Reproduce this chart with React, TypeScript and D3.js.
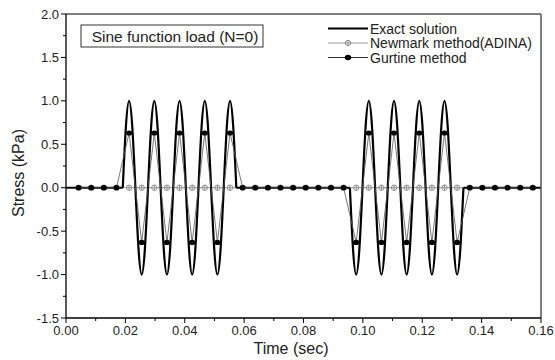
import React from "react";
import * as d3 from "d3";

// ---- data ----
const DT = 0.00425; // sampling step (s)
const sampleIndex = d3.range(1, 38);
// values at k = 0 .. 37
const gurtineValues = [
  0, 0, 0, 0, 0,
  0.63, -0.63, 0.63, -0.63, 0.63, -0.63, 0.63, -0.63, 0.63,
  0, 0, 0, 0, 0, 0, 0, 0, 0,
  -0.63, 0.63, -0.63, 0.63, -0.63, 0.63, -0.63, 0.63, -0.63,
  0, 0, 0, 0, 0, 0,
];
const newmarkValues = [
  0, 0, 0, 0, 0,
  0, 0, 0, 0, 0, 0, 0, 0, 0,
  0, 0, 0, 0, 0, 0, 0, 0, 0,
  0, 0, 0, 0, 0, 0, 0, 0, 0,
  0, 0, 0, 0, 0, 0,
];
// exact solution, sampled every DT/4, over the two loading windows
const exactStart1 = 4.5; // in DT units
const exactValues1 = [
  0, 0.71, 1, 0.71, 0, -0.71, -1, -0.71,
  0, 0.71, 1, 0.71, 0, -0.71, -1, -0.71,
  0, 0.71, 1, 0.71, 0, -0.71, -1, -0.71,
  0, 0.71, 1, 0.71, 0, -0.71, -1, -0.71,
  0, 0.71, 1, 0.71, 0,
];
const exactStart2 = 22.5;
const exactValues2 = [
  0, -0.71, -1, -0.71, 0, 0.71, 1, 0.71,
  0, -0.71, -1, -0.71, 0, 0.71, 1, 0.71,
  0, -0.71, -1, -0.71, 0, 0.71, 1, 0.71,
  0, -0.71, -1, -0.71, 0, 0.71, 1, 0.71,
  0, -0.71, -1, -0.71, 0,
];
const xTicks = [0, 0.02, 0.04, 0.06, 0.08, 0.1, 0.12, 0.14, 0.16];
const yTicks = [-1.5, -1.0, -0.5, 0.0, 0.5, 1.0, 1.5, 2.0];
const legendLabels = ["Exact solution", "Newmark method(ADINA)", "Gurtine method"];
const titleText = "Sine function load (N=0)";

export default function App() {
  const W = 555, H = 360;
  const L = 66, R = 541, T = 14, B = 318;
  const x = d3.scaleLinear().domain([0, 0.16]).range([L, R]);
  const y = d3.scaleLinear().domain([-1.5, 2.0]).range([B, T]);
  const font = "Arial, 'Liberation Sans', sans-serif";

  const line = d3.line<[number, number]>().x((d) => x(d[0])).y((d) => y(d[1]));
  const natural = d3
    .line<[number, number]>()
    .x((d) => x(d[0]))
    .y((d) => y(d[1]))
    .curve(d3.curveNatural);

  const ex1: [number, number][] = exactValues1.map((v, i) => [(exactStart1 + i / 4) * DT, v]);
  const ex2: [number, number][] = exactValues2.map((v, i) => [(exactStart2 + i / 4) * DT, v]);
  const flatExact: [number, number][][] = [
    [[0, 0], [ex1[0][0], 0]],
    [[ex1[ex1.length - 1][0], 0], [ex2[0][0], 0]],
    [[ex2[ex2.length - 1][0], 0], [0.16, 0]],
  ];

  const gPts: [number, number][] = sampleIndex.map((k) => [k * DT, gurtineValues[k]]);
  const nPts: [number, number][] = sampleIndex.map((k) => [k * DT, newmarkValues[k]]);

  const xMinor = d3.range(0, 17).map((i) => i * 0.01);
  const yMinor = d3.range(0, 15).map((i) => -1.5 + i * 0.25);

  const legY = [28.5, 43, 57.5];
  const legX0 = 328, legX1 = 368;
  const lm = (legX0 + legX1) / 2;

  const plus = (cx: number, cy: number, key: string) => (
    <g key={key}>
      <circle cx={cx} cy={cy} r={2.7} fill="#fff" stroke="#777" strokeWidth={0.8} />
      <line x1={cx - 2.7} x2={cx + 2.7} y1={cy} y2={cy} stroke="#777" strokeWidth={0.8} />
      <line x1={cx} x2={cx} y1={cy - 2.7} y2={cy + 2.7} stroke="#777" strokeWidth={0.8} />
    </g>
  );

  return (
    <svg width={W} height={H} style={{ position: "absolute", left: 0, top: 0, background: "#fff" }}>
      <rect x={0} y={0} width={W} height={H} fill="#fff" />
      {/* series */}
      <path d={line(nPts) || ""} fill="none" stroke="#8a8a8a" strokeWidth={0.9} />
      {flatExact.map((s, i) => (
        <path key={"f" + i} d={line(s) || ""} fill="none" stroke="#000" strokeWidth={2} />
      ))}
      <path d={natural(ex1) || ""} fill="none" stroke="#000" strokeWidth={2.2} />
      <path d={natural(ex2) || ""} fill="none" stroke="#000" strokeWidth={2.2} />
      <path d={line(gPts) || ""} fill="none" stroke="#555" strokeWidth={0.8} />
      {nPts.map((d, i) => plus(x(d[0]), y(d[1]), "n" + i))}
      {gPts.map((d, i) => (
        <ellipse key={"g" + i} cx={x(d[0])} cy={y(d[1])} rx={3.1} ry={2.6} fill="#000" />
      ))}

      {/* frame */}
      <line x1={L} x2={R} y1={T} y2={T} stroke="#555" strokeWidth={1.5} />
      <line x1={R} x2={R} y1={T} y2={B} stroke="#555" strokeWidth={1.5} />
      <line x1={L} x2={L} y1={T} y2={B} stroke="#000" strokeWidth={1.3} />
      <line x1={L} x2={R} y1={B} y2={B} stroke="#000" strokeWidth={1.3} />

      {/* x ticks */}
      {xMinor.map((v, i) => (
        <line key={"xm" + i} x1={x(v)} x2={x(v)} y1={B} y2={B + (i % 2 === 0 ? 5 : 3)} stroke="#000" strokeWidth={1} />
      ))}
      {xTicks.map((v) => (
        <text key={"xt" + v} x={x(v)} y={B + 17} fontSize={13} fontFamily={font} fill="#222" textAnchor="middle">
          {v.toFixed(2)}
        </text>
      ))}
      {/* y ticks */}
      {yMinor.map((v, i) => (
        <line key={"ym" + i} x1={L} x2={L - (i % 2 === 0 ? 5 : 3)} y1={y(v)} y2={y(v)} stroke="#000" strokeWidth={1} />
      ))}
      {yTicks.map((v) => (
        <text key={"yt" + v} x={L - 7} y={y(v) + 4.5} fontSize={13} fontFamily={font} fill="#222" textAnchor="end">
          {v.toFixed(1)}
        </text>
      ))}

      <text x={291} y={354} fontSize={16} fontFamily={font} fill="#222" textAnchor="middle">
        Time (sec)
      </text>
      <text
        transform={`translate(24,173) rotate(-90)`}
        fontSize={16}
        fontFamily={font}
        fill="#222"
        textAnchor="middle"
      >
        Stress (kPa)
      </text>

      {/* title box */}
      <rect x={81} y={25} width={182} height={22} fill="#fff" stroke="#333" strokeWidth={1} />
      <text x={175} y={41.5} fontSize={15.5} fontFamily={font} fill="#222" textAnchor="middle">
        {titleText}
      </text>

      {/* legend */}
      <line x1={legX0} x2={legX1} y1={legY[0]} y2={legY[0]} stroke="#000" strokeWidth={2} />
      <line x1={legX0} x2={legX1} y1={legY[1]} y2={legY[1]} stroke="#8a8a8a" strokeWidth={0.9} />
      {plus(lm, legY[1], "legplus")}
      <line x1={legX0} x2={legX1} y1={legY[2]} y2={legY[2]} stroke="#333" strokeWidth={1} />
      <ellipse cx={lm} cy={legY[2]} rx={3.2} ry={2.8} fill="#000" />
      {legendLabels.map((t, i) => (
        <text key={t} x={370} y={legY[i] + 5} fontSize={14} fontFamily={font} fill="#222">
          {t}
        </text>
      ))}
    </svg>
  );
}
